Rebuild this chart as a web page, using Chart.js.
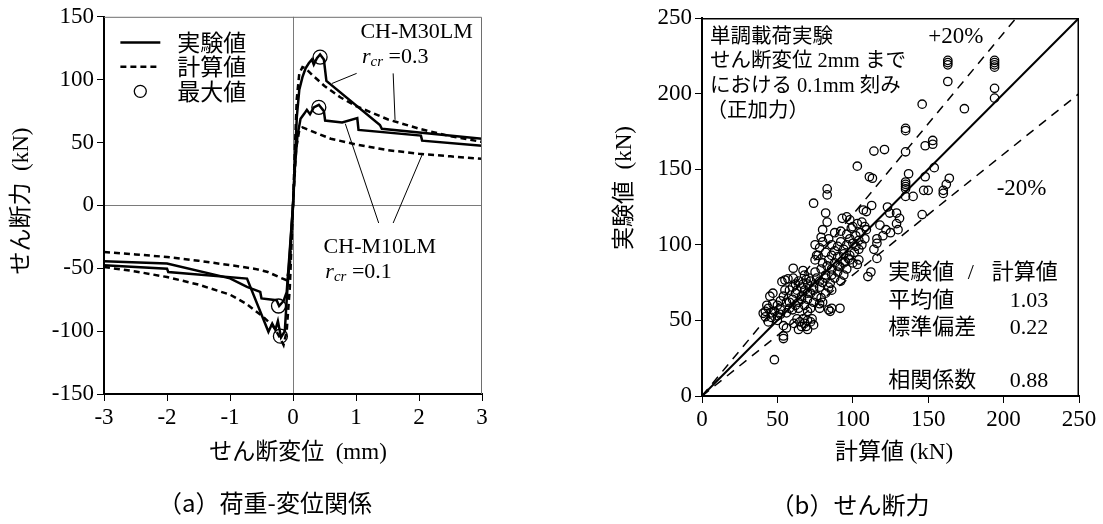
<!DOCTYPE html>
<html>
<head>
<meta charset="utf-8">
<script src="https://cdn.jsdelivr.net/npm/chart.js@4.4.0/dist/chart.umd.min.js"></script>
<style>
    body { margin: 0; background: #fff; width: 1103px; height: 524px; position: relative; overflow: hidden; }
    canvas { position: absolute; top: 0; display: block; }
    #chartA { left: 0; }
    #chartB { left: 540px; }
</style>
</head>
<body>
<canvas id="chartA" width="540" height="524"></canvas>
<canvas id="chartB" width="563" height="524"></canvas>
<script>
// (a) 荷重-変位関係 : displacement (mm) / shear force (kN)
const dispM30Exp = [-3, -2, -1.98, -0.73, -0.39, -0.33, -0.28, -0.24, -0.19, -0.13, -0.1, -0.05, 0, 0.03, 0.06, 0.1, 0.15, 0.2, 0.25, 0.3, 0.33, 0.38, 0.43, 0.49, 0.53, 1.38, 1.41, 3];
const loadM30Exp = [-47.5, -50.3, -53, -58.2, -100.5, -94, -99, -92, -105, -100, -75, -38, 0, 35, 70, 92, 102, 109, 113, 116, 112, 117, 120, 116, 99, 64, 61, 53];

const dispM10Exp = [-3, -2, -1, -0.73, -0.52, -0.5, -0.26, -0.22, -0.15, -0.1, -0.05, 0, 0.03, 0.07, 0.12, 0.18, 0.22, 0.27, 0.33, 0.41, 0.49, 0.51, 0.78, 1.02, 1.04, 2.03, 2.05, 3];
const loadM10Exp = [-44.5, -46.3, -58, -64.8, -68.8, -74, -75.4, -80, -76, -69, -35, 0, 30, 55, 69, 73, 76, 72.5, 78, 80, 75, 67.5, 66, 69.5, 60, 55.5, 51.5, 47.5];

const dispM30Calc = [-3, -2.5, -2, -1.5, -1, -0.75, -0.47, -0.3, -0.2, -0.15, -0.1, -0.05, 0, 0.03, 0.06, 0.1, 0.15, 0.2, 0.3, 0.5, 0.75, 1, 1.5, 2, 2.5, 3];
const loadM30Calc = [-49, -52.5, -57, -63, -71, -78, -88.7, -97, -106, -111, -100, -65, 0, 45, 85, 105, 110, 109, 104, 95, 86, 79, 68.5, 61, 55, 50.5];

const dispM10Calc = [-3, -2.5, -2, -1.5, -1, -0.6, -0.4, -0.2, -0.1, -0.05, 0, 0.05, 0.1, 0.15, 0.2, 0.4, 0.6, 1, 1.5, 2, 2.5, 3];
const loadM10Calc = [-37, -39, -41, -44, -47.5, -50.5, -53, -57.5, -59.5, -48, 0, 45, 60, 62, 61, 57, 53, 48.5, 44, 41, 39, 37];

const maxDisp = [0.43, 0.41, -0.23, -0.2];
const maxLoad = [118, 78, -80, -104];

// leader lines from labels to curves
const leaderDisp = [[1.01, 0.62], [1.59, 1.62], [1.36, 0.83], [1.59, 2.06]];
const leaderLoad = [[105, 97], [105, 68], [-14, 65], [-14, 41.5]];

const dispTicks = { min: -3, max: 3, step: 1 };
const loadTicks = { min: -150, max: 150, step: 50 };

// (b) せん断力 : calculated vs experimental (kN)
const calcShear = [
    163, 163, 163, 163, 194, 194, 194, 194, 194, 194,
    146, 174, 135, 135, 121, 114, 135, 148, 153, 153,
    103, 111, 113, 137, 148, 154, 135, 135, 135, 135,
    164, 162, 160, 160, 147, 150, 140, 135, 146, 123,
    129, 131, 118, 122, 130, 129, 125, 116, 116, 114,
    116, 83, 83, 74, 82, 83, 80, 79, 93, 96,
    98, 107, 109, 112.5, 106, 108, 109, 124.5, 120, 110,
    103, 91.5, 95, 97, 112, 75, 78, 80, 84, 86,
    88, 90, 92, 94, 96, 98, 100, 102, 104, 88,
    92, 96, 99, 102, 105, 86, 90, 94, 98, 101,
    84, 88, 82, 77, 104, 106, 108, 100, 103, 60.5,
    67, 60.5, 55, 57, 53, 47, 45, 43, 44, 40.6,
    42, 44, 47, 48, 54, 54, 56, 54, 64, 66,
    68, 70, 72, 74, 70, 67, 61, 63, 73, 69,
    65, 84, 86, 91.5, 85, 86, 79, 78, 84, 68,
    69, 75, 76, 80, 85, 50, 52, 54, 56, 58,
    60, 62, 64, 66, 68, 70, 72, 74, 58, 60,
    62, 64, 66, 56, 60, 64, 68, 52, 48, 50,
    46, 55, 70, 72, 76, 78, 80, 82, 74, 76,
    78, 80, 82, 88, 90, 92, 94, 86, 96, 100,
    104, 70, 72, 58, 62, 66, 70, 74, 78, 82,
    86, 90, 94, 98, 63, 67, 71, 75, 79, 83,
    42, 46, 50, 52
];
const expShear = [
    222, 220.5, 219, 208, 222, 220.5, 219, 217.5, 203.5, 197,
    193, 190, 177, 175.5, 163, 162, 161.5, 165.5, 169, 166.5,
    152, 145, 144, 147, 145, 151, 141.5, 140, 138.5, 137,
    144, 140, 136, 134, 136, 136, 132, 132, 120, 125,
    121, 117.5, 113, 110, 110, 114, 108, 104, 101, 97,
    91, 137, 133, 127.5, 121, 115, 110, 105, 117.5, 118.5,
    116.5, 123, 122, 126, 115, 112, 110, 121, 106, 79,
    87, 85.5, 89, 91, 82, 100, 98, 102, 104, 100,
    96, 99, 102, 97, 100, 104, 101, 99, 97, 108,
    109, 107, 111, 106, 108, 93, 92, 94, 93, 95,
    90, 88, 95, 93, 103, 100, 104, 112, 114, 84.5,
    83, 78, 76.7, 77.5, 75.6, 68, 66, 60, 58, 54.7,
    52.4, 49, 61, 24, 38, 39.7, 45, 46.5, 44, 46,
    48, 50, 49, 47, 44, 51, 48, 51, 51, 46,
    49, 72, 70, 58, 56, 58, 65, 61, 57, 80,
    77, 90, 93, 88, 74.5, 60, 63, 66, 62, 58,
    64, 68, 62, 66, 70, 64, 68, 72, 70, 72,
    74, 76, 72, 55, 57, 58, 60, 57, 56, 53,
    55, 70, 74, 76, 78, 72, 75, 80, 62, 66,
    58, 62, 68, 78, 82, 76, 80, 84, 84, 88,
    90, 56, 58, 62, 60, 64, 68, 70, 76, 78,
    80, 86, 88, 90, 70, 74, 78, 82, 84, 86,
    56, 52, 50, 54
];

// reference lines: 1:1, +20%, -20%
const refCalc = [[0, 250], [0, 208.3], [0, 250]];
const refExp = [[0, 250], [0, 250], [0, 200]];

const shearTicks = { min: 0, max: 250, step: 50 };

const SERIF = "'Liberation Serif', 'Noto Sans CJK JP', serif";
const JP = "'Noto Sans CJK JP', sans-serif";

function pts(xs, ys) {
    return xs.map((x, i) => ({ x: x, y: ys[i] }));
}

function lineSet(xs, ys, dash, width) {
    return {
        data: pts(xs, ys),
        showLine: true,
        borderColor: '#000',
        borderWidth: width,
        borderDash: dash,
        pointRadius: 0,
        pointHoverRadius: 0,
        tension: 0,
        fill: false
    };
}

function text(ctx, str, x, y, font, align) {
    ctx.font = font;
    ctx.textAlign = align || 'left';
    ctx.textBaseline = 'middle';
    ctx.fillStyle = '#000';
    ctx.fillText(str, x, y);
}

function rcr(ctx, x, y, value) {
    ctx.textAlign = 'left';
    ctx.textBaseline = 'middle';
    ctx.fillStyle = '#000';
    ctx.font = 'italic 22px ' + SERIF;
    ctx.fillText('r', x, y);
    let w = ctx.measureText('r').width;
    ctx.font = 'italic 15px ' + SERIF;
    ctx.fillText('cr', x + w, y + 5);
    w += ctx.measureText('cr').width;
    ctx.font = '22px ' + SERIF;
    ctx.fillText(' =' + value, x + w, y);
}

function zeroGrid(c) {
    return (c.tick && c.tick.value === 0) ? '#7a7a7a' : 'rgba(0,0,0,0)';
}

function axis(range, size, gridColor, fit) {
    return {
        type: 'linear',
        min: range.min,
        max: range.max,
        ticks: {
            stepSize: range.step,
            autoSkip: false,
            maxRotation: 0,
            color: '#000',
            padding: 3,
            font: { family: SERIF, size: size },
            callback: v => String(v)
        },
        grid: {
            color: gridColor,
            drawOnChartArea: true,
            tickColor: '#000',
            tickLength: 7,
            lineWidth: 1
        },
        border: { color: '#000', width: 2 },
        afterFit: fit
    };
}

const labelsA = {
    id: 'labelsA',
    afterDraw(chart) {
        const ctx = chart.ctx;
        const a = chart.chartArea;
        const xs = chart.scales.x, ys = chart.scales.y;
        const px = v => xs.getPixelForValue(v);
        const py = v => ys.getPixelForValue(v);
        ctx.save();

        // thin top / right frame
        ctx.strokeStyle = '#6e6e6e';
        ctx.lineWidth = 1;
        ctx.beginPath();
        ctx.moveTo(a.left, a.top + 0.5);
        ctx.lineTo(a.right - 0.5, a.top + 0.5);
        ctx.lineTo(a.right - 0.5, a.bottom);
        ctx.stroke();

        // legend
        ctx.strokeStyle = '#000';
        ctx.lineWidth = 2.5;
        ctx.beginPath();
        ctx.moveTo(px(-2.74), py(129.6));
        ctx.lineTo(px(-2.106), py(129.6));
        ctx.stroke();
        ctx.setLineDash([6, 4]);
        ctx.beginPath();
        ctx.moveTo(px(-2.74), py(110.3));
        ctx.lineTo(px(-2.106), py(110.3));
        ctx.stroke();
        ctx.setLineDash([]);
        ctx.lineWidth = 1.3;
        ctx.beginPath();
        ctx.arc(px(-2.424), py(90.7), 6, 0, Math.PI * 2);
        ctx.stroke();
        text(ctx, '実験値', px(-1.837), py(129.6), '23px ' + JP);
        text(ctx, '計算値', px(-1.837), py(110.3), '23px ' + JP);
        text(ctx, '最大値', px(-1.837), py(90.7), '23px ' + JP);

        // specimen labels
        text(ctx, 'CH-M30LM', px(1.07), py(137.5), '22px ' + SERIF);
        rcr(ctx, px(1.095), py(117.7), '0.3');
        text(ctx, 'CH-M10LM', px(0.486), py(-33.1), '22px ' + SERIF);
        rcr(ctx, px(0.513), py(-52.9), '0.1');

        // axis titles and caption
        text(ctx, 'せん断変位  (mm)', 298, 453, '23px ' + SERIF, 'center');
        ctx.save();
        ctx.translate(22, 201);
        ctx.rotate(-Math.PI / 2);
        text(ctx, 'せん断力  (kN)', 0, 0, '23px ' + SERIF, 'center');
        ctx.restore();
        text(ctx, '（a）荷重-変位関係', 265, 503, '24px ' + JP, 'center');
        ctx.restore();
    }
};

const labelsB = {
    id: 'labelsB',
    afterDraw(chart) {
        const ctx = chart.ctx;
        const a = chart.chartArea;
        const xs = chart.scales.x, ys = chart.scales.y;
        const px = v => xs.getPixelForValue(v);
        const py = v => ys.getPixelForValue(v);
        ctx.save();

        ctx.strokeStyle = '#000';
        ctx.lineWidth = 1.5;
        ctx.beginPath();
        ctx.moveTo(a.left, a.top + 0.75);
        ctx.lineTo(a.right - 0.75, a.top + 0.75);
        ctx.lineTo(a.right - 0.75, a.bottom);
        ctx.stroke();

        const note = '20.5px ' + SERIF;
        text(ctx, '単調載荷実験', px(5.3), py(236.8), note);
        text(ctx, 'せん断変位 2mm まで', px(5.3), py(220.9), note);
        text(ctx, 'における 0.1mm 刻み', px(5.3), py(204.6), note);
        text(ctx, '（正加力）', px(3), py(188), note);

        text(ctx, '+20%', px(150), py(237.6), '23px ' + SERIF);
        text(ctx, '-20%', px(195.4), py(136.7), '23px ' + SERIF);

        const st = '22px ' + SERIF;
        text(ctx, '実験値', px(123.5), py(81.2), st);
        text(ctx, '/', px(178.2), py(81.2), st, 'center');
        text(ctx, '計算値', px(192.1), py(81.2), st);
        text(ctx, '平均値', px(123.5), py(62.4), st);
        text(ctx, '1.03', px(229.6), py(62.4), st, 'right');
        text(ctx, '標準偏差', px(123.5), py(44.8), st);
        text(ctx, '0.22', px(229.6), py(44.8), st, 'right');
        text(ctx, '相関係数', px(123.5), py(10.1), st);
        text(ctx, '0.88', px(229.6), py(10.1), st, 'right');

        text(ctx, '計算値 (kN)', 354, 453, '23px ' + SERIF, 'center');
        ctx.save();
        ctx.translate(85, 188);
        ctx.rotate(-Math.PI / 2);
        text(ctx, '実験値  (kN)', 0, 0, '23px ' + SERIF, 'center');
        ctx.restore();
        text(ctx, '（b）せん断力', 310, 505, '24px ' + JP, 'center');
        ctx.restore();
    }
};

const baseOptions = {
    responsive: false,
    animation: false,
    devicePixelRatio: 1,
    events: [],
    plugins: {
        legend: { display: false },
        tooltip: { enabled: false }
    }
};

const leaderSets = leaderDisp.map((d, i) => lineSet(d, leaderLoad[i], [], 1));

new Chart(document.getElementById('chartA'), {
    type: 'scatter',
    data: {
        datasets: [
            lineSet(dispM30Exp, loadM30Exp, [], 2.5),
            lineSet(dispM10Exp, loadM10Exp, [], 2.5),
            lineSet(dispM30Calc, loadM30Calc, [6, 4], 2.5),
            lineSet(dispM10Calc, loadM10Calc, [6, 4], 2.5),
            {
                data: pts(maxDisp, maxLoad),
                pointRadius: 7,
                pointBorderWidth: 1.3,
                pointBorderColor: '#000',
                pointBackgroundColor: 'rgba(0,0,0,0)',
                showLine: false
            },
            ...leaderSets
        ]
    },
    options: {
        ...baseOptions,
        layout: { padding: { top: 16, right: 58, left: 0, bottom: 0 } },
        scales: {
            x: axis(dispTicks, 23, zeroGrid, s => { s.height = 130; }),
            y: axis(loadTicks, 23, zeroGrid, s => { s.width = 104; })
        }
    },
    plugins: [labelsA]
});

new Chart(document.getElementById('chartB'), {
    type: 'scatter',
    data: {
        datasets: [
            lineSet(refCalc[0], refExp[0], [], 2),
            lineSet(refCalc[1], refExp[1], [9, 7], 1.5),
            lineSet(refCalc[2], refExp[2], [9, 7], 1.5),
            {
                data: pts(calcShear, expShear),
                pointRadius: 4.2,
                pointBorderWidth: 1.3,
                pointBorderColor: '#000',
                pointBackgroundColor: 'rgba(0,0,0,0)',
                showLine: false
            }
        ]
    },
    options: {
        ...baseOptions,
        layout: { padding: { top: 18, right: 24, left: 0, bottom: 0 } },
        scales: {
            x: axis(shearTicks, 23, 'rgba(0,0,0,0)', s => { s.height = 128; }),
            y: axis(shearTicks, 23, 'rgba(0,0,0,0)', s => { s.width = 162; })
        }
    },
    plugins: [labelsB]
});
</script>
</body>
</html>
